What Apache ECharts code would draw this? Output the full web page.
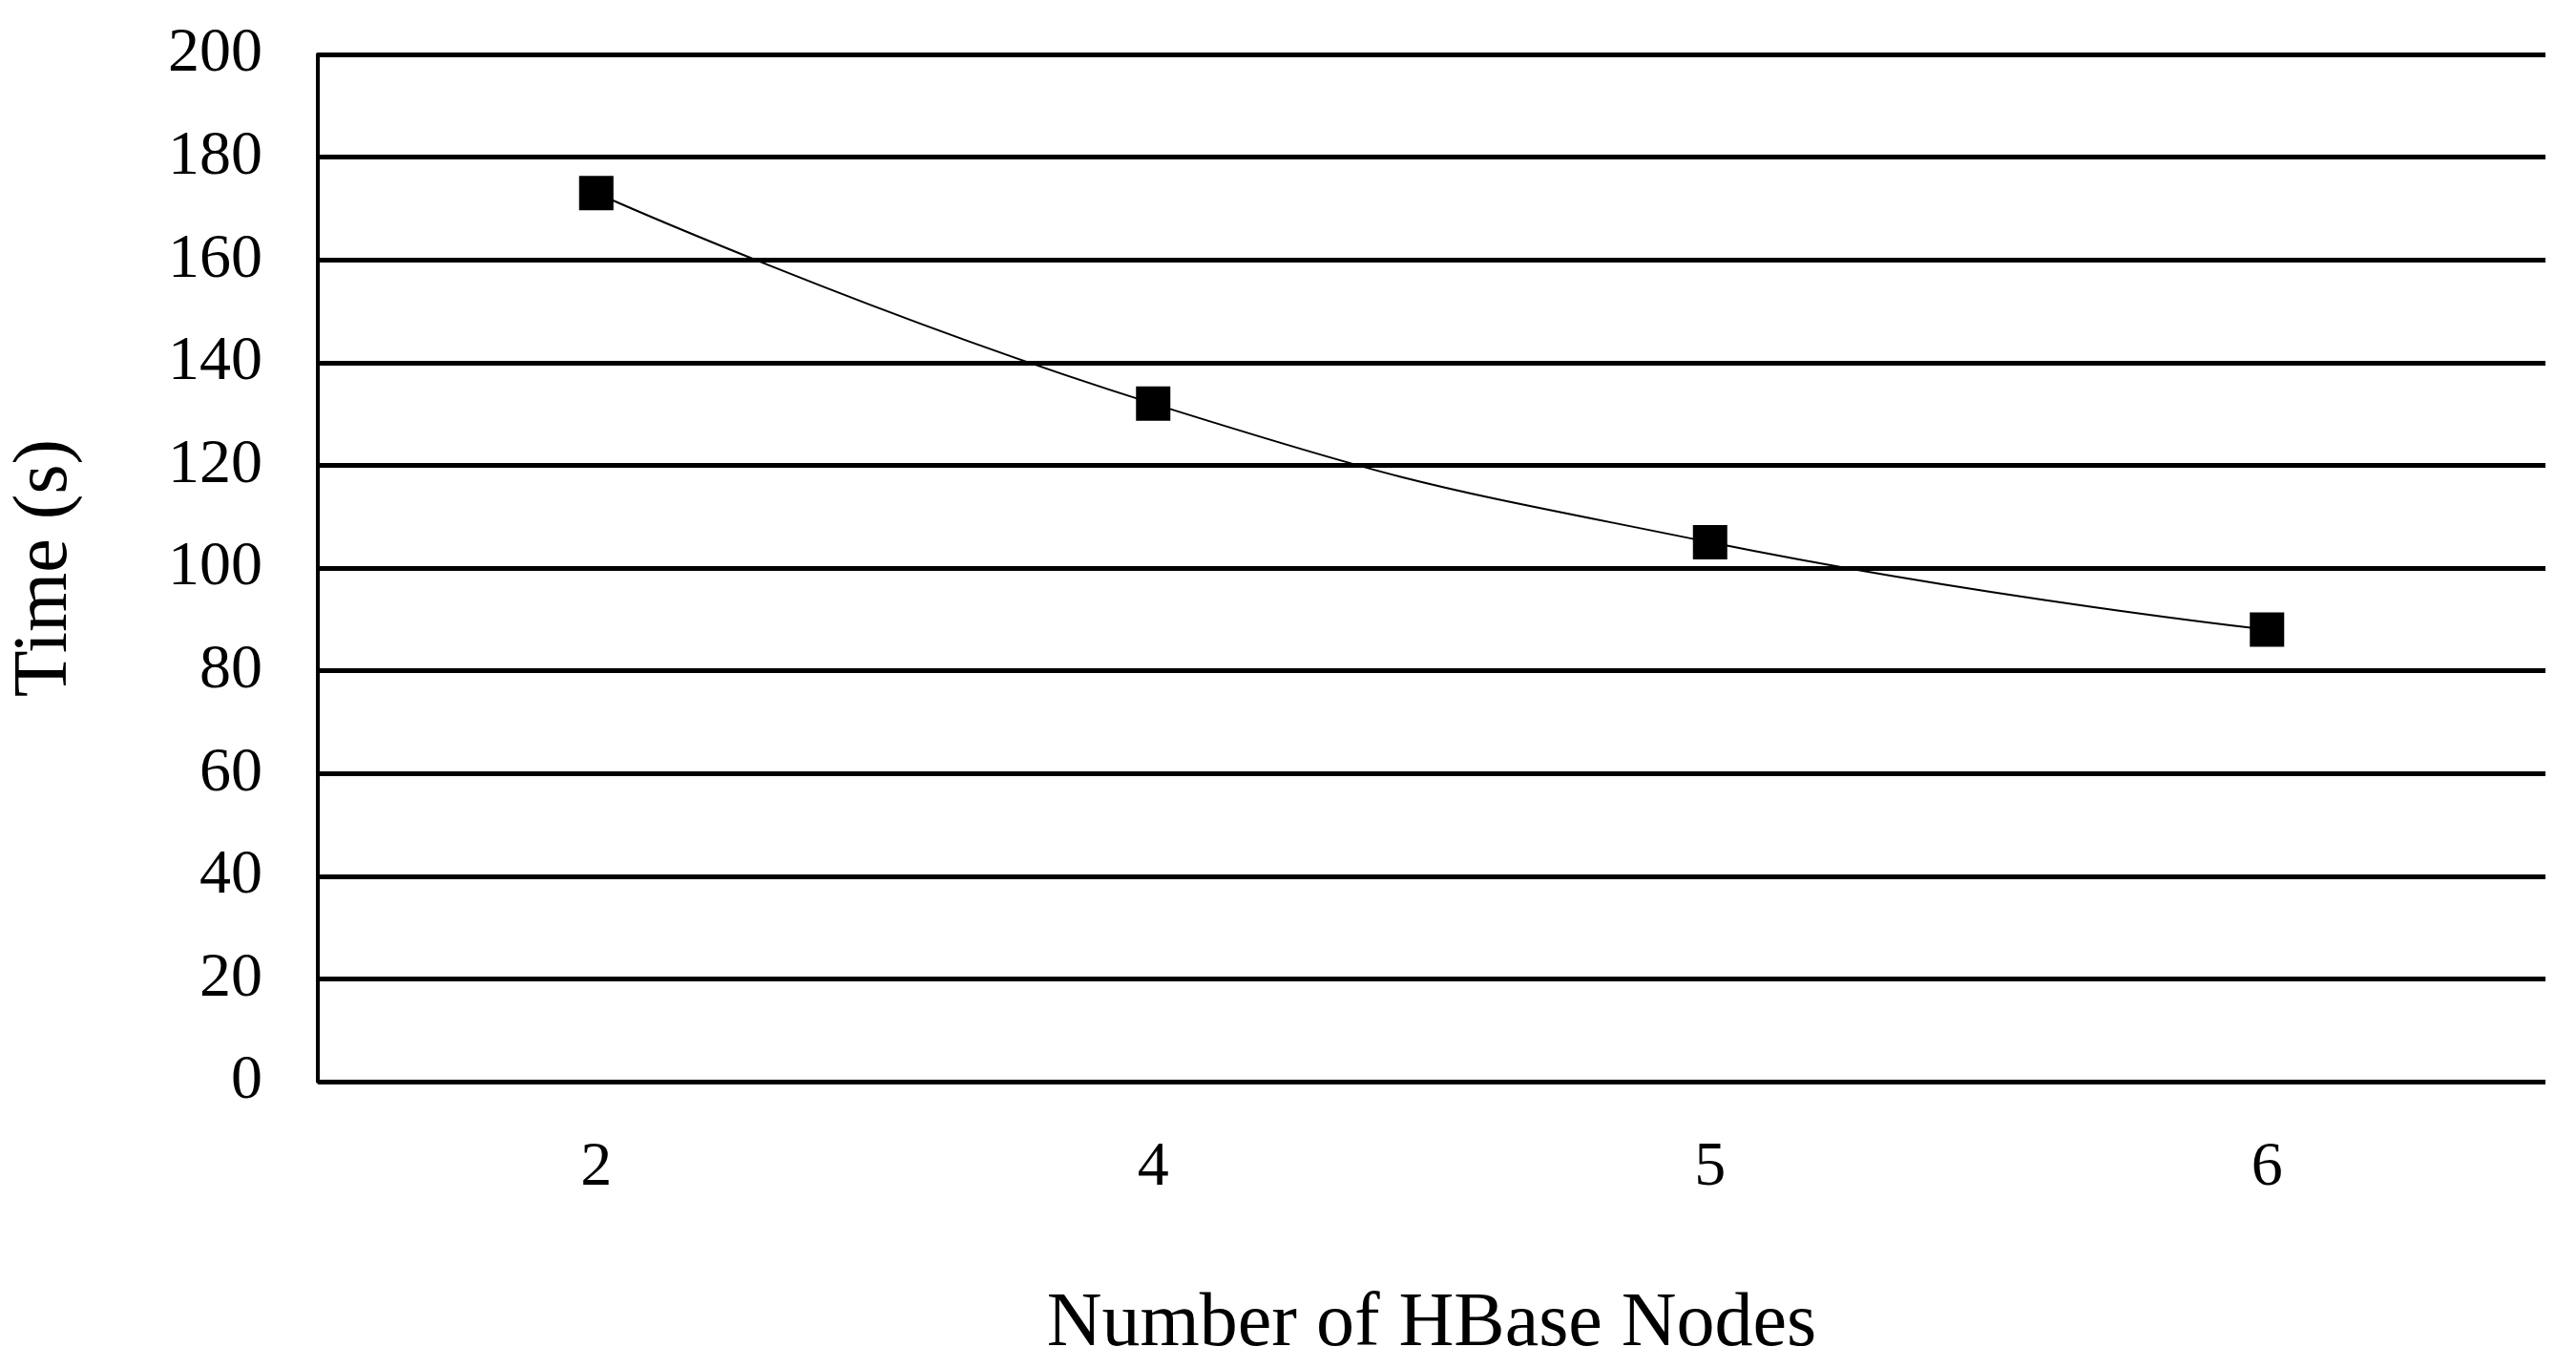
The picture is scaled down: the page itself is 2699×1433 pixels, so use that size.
<!DOCTYPE html>
<html><head><meta charset="utf-8">
<script src="https://cdn.jsdelivr.net/npm/echarts@6/dist/echarts.min.js"></script>
<style>html,body{margin:0;padding:0;background:#fff}#c{width:2699px;height:1433px}</style>
</head><body><div id="c"></div>
<script>
var categories = ['2','4','5','6'];
var timeValues = [173, 132, 105, 88];
var chart = echarts.init(document.getElementById('c'));
var font = 'Liberation Serif';
chart.setOption({
  animation:false,
  grid:{left:331,right:32,top:57,bottom:271},
  xAxis:{type:'category',data:categories,boundaryGap:true,
    name:'Number of HBase Nodes',nameLocation:'middle',nameGap:215,
    nameTextStyle:{fontFamily:font,fontSize:80,color:'#000'},
    axisLine:{show:false},axisTick:{show:false},
    axisLabel:{fontFamily:font,fontSize:66,color:'#000',margin:58}},
  yAxis:{type:'value',min:0,max:200,interval:20,
    name:'Time (s)',nameLocation:'middle',nameGap:245,
    nameTextStyle:{fontFamily:font,fontSize:80,color:'#000'},
    axisLine:{show:true,lineStyle:{color:'#000',width:4}},axisTick:{show:false},
    axisLabel:{fontFamily:font,fontSize:66,color:'#000',margin:58},
    splitLine:{lineStyle:{color:'#000',width:5}}},
  series:[{type:'line',data:timeValues,smooth:0.5,symbol:'rect',symbolSize:36,
    lineStyle:{color:'#000',width:2},itemStyle:{color:'#000'}}]
});
</script></body></html>
